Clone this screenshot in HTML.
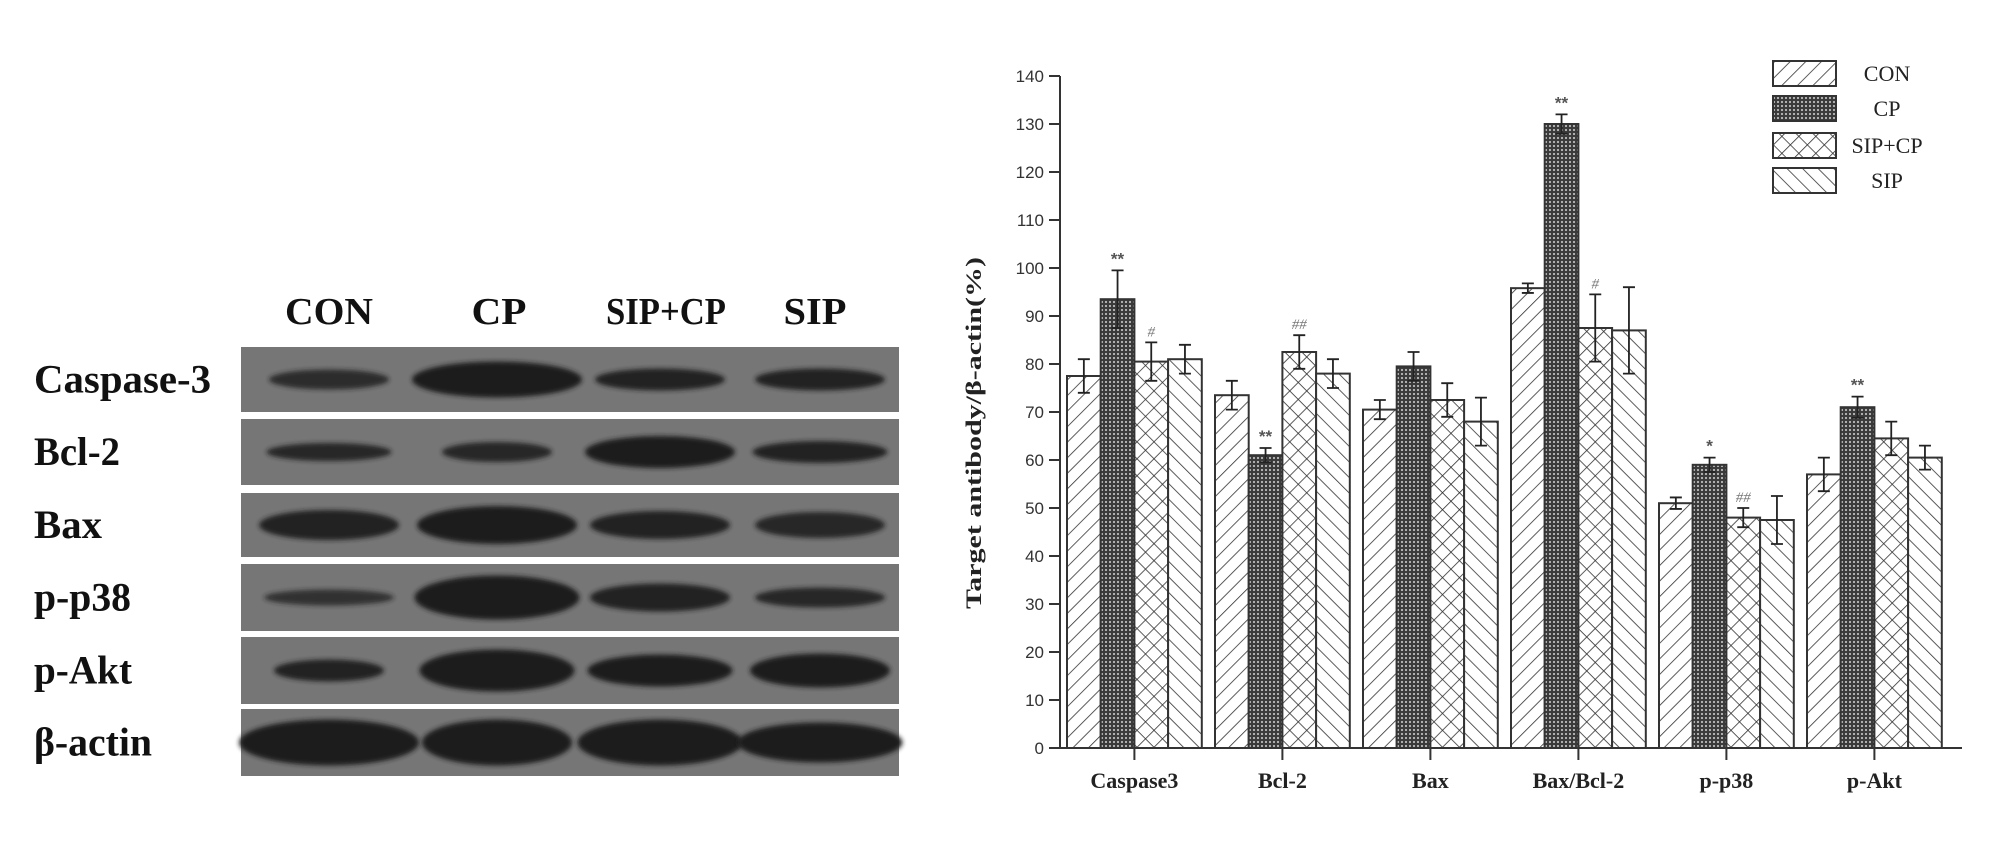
<!DOCTYPE html>
<html><head><meta charset="utf-8">
<style>
html,body{margin:0;padding:0;background:#fff;}
svg{display:block;}
</style></head>
<body>
<svg id="fig" width="2008" height="852" viewBox="0 0 2008 852" xmlns="http://www.w3.org/2000/svg">
<defs>
  <pattern id="pCon" width="11" height="11" patternUnits="userSpaceOnUse" patternTransform="rotate(45)">
    <rect width="11" height="11" fill="#fff"/><line x1="0" y1="0" x2="0" y2="11" stroke="#333" stroke-width="1.6"/>
  </pattern>
  <pattern id="pSip" width="11" height="11" patternUnits="userSpaceOnUse" patternTransform="rotate(-45)">
    <rect width="11" height="11" fill="#fff"/><line x1="0" y1="0" x2="0" y2="11" stroke="#333" stroke-width="1.6"/>
  </pattern>
  <pattern id="pCross" width="12" height="12" patternUnits="userSpaceOnUse" patternTransform="rotate(45)">
    <rect width="12" height="12" fill="#fff"/>
    <line x1="0" y1="0" x2="0" y2="12" stroke="#333" stroke-width="1.6"/>
    <line x1="0" y1="0" x2="12" y2="0" stroke="#333" stroke-width="1.6"/>
  </pattern>
  <pattern id="pDot" width="4" height="4" patternUnits="userSpaceOnUse">
    <rect width="4" height="4" fill="#3a3a3a"/><circle cx="2" cy="2" r="1.1" fill="#bbb"/>
  </pattern>
  <filter id="blur" x="-20%" y="-50%" width="140%" height="200%"><feGaussianBlur stdDeviation="2.5"/></filter>
</defs>

<g id="blot" font-family="'Liberation Serif',serif" font-weight="bold"></g>
<g id="chart"></g>
</svg>

<script>
const NS = 'http://www.w3.org/2000/svg';
// ---- Chart data ----
const categories = ['Caspase3','Bcl-2','Bax','Bax/Bcl-2','p-p38','p-Akt'];
const seriesNames = ['CON','CP','SIP+CP','SIP'];
const conVals = [77.5, 73.5, 70.5, 95.8, 51, 57];
const cpVals = [93.5, 61, 79.5, 130, 59, 71];
const sipcpVals = [80.5, 82.5, 72.5, 87.5, 48, 64.5];
const sipVals = [81, 78, 68, 87, 47.5, 60.5];
const conErr = [3.5, 3, 2, 1, 1.2, 3.5];
const cpErr = [6, 1.5, 3, 2, 1.5, 2.2];
const sipcpErr = [4, 3.5, 3.5, 7, 2, 3.5];
const sipErr = [3, 3, 5, 9, 5, 2.5];
const cpMarks = ['**','**','','**','*','**'];
const sipcpMarks = ['#','##','','#','##',''];
const yTicks = [0,10,20,30,40,50,60,70,80,90,100,110,120,130,140];

const blotRows = ['Caspase-3','Bcl-2','Bax','p-p38','p-Akt','β-actin'];
const blotLanes = ['CON','CP','SIP+CP','SIP'];

function el(tag, attrs, parent){const e=document.createElementNS(NS,tag);for(const k in attrs)e.setAttribute(k,attrs[k]);parent.appendChild(e);return e;}

const X0=1060, Y0=748, PX=4.8, G0=1067, GSTEP=148, BW=33.7;
const yS = v => Y0 - v*PX;
const xBar = (g,s) => G0 + g*GSTEP + s*BW;

const chart=document.getElementById('chart');
const series=[conVals,cpVals,sipcpVals,sipVals];
const errs=[conErr,cpErr,sipcpErr,sipErr];
const fills=['url(#pCon)','url(#pDot)','url(#pCross)','url(#pSip)'];

series.forEach((vals,s)=>{
  vals.forEach((v,g)=>{
    const r=el('rect',{x:xBar(g,s),y:yS(v),width:BW,height:Y0-yS(v),fill:fills[s],stroke:'#333','stroke-width':2},chart);
    
    
    const cx=xBar(g,s)+BW/2, e=errs[s][g];
    const eb=el('path',{d:`M${cx} ${yS(v+e)}V${yS(v-e)}M${cx-6} ${yS(v+e)}H${cx+6}M${cx-6} ${yS(v-e)}H${cx+6}`,stroke:'#222','stroke-width':1.8,fill:'none'},chart);
    
    
  });
});
categories.forEach((c,g)=>{
  if(cpMarks[g]){
    const t=el('text',{x:xBar(g,1)+BW/2,y:yS(cpVals[g]+cpErr[g])-6,'text-anchor':'middle','font-family':"'Liberation Sans',sans-serif",'font-size':17,'font-weight':'bold',fill:'#555'},chart);
    t.textContent=cpMarks[g];
    
    
  }
  if(sipcpMarks[g]){
    const t=el('text',{x:xBar(g,2)+BW/2,y:yS(sipcpVals[g]+sipcpErr[g])-6,'text-anchor':'middle','font-family':"'Liberation Serif',serif",'font-size':15,'font-style':'italic',fill:'#777'},chart);
    t.textContent=sipcpMarks[g];
    
    
  }
});
const ya=el('line',{x1:X0,y1:yS(140),x2:X0,y2:Y0,stroke:'#333','stroke-width':2},chart);


yTicks.forEach(v=>{
  el('line',{x1:X0-11,y1:yS(v),x2:X0,y2:yS(v),stroke:'#333','stroke-width':2},chart);
  const t=el('text',{x:X0-16,y:yS(v)+6,'text-anchor':'end','font-family':"'Liberation Sans',sans-serif",'font-size':17,fill:'#333'},chart);
  t.textContent=v;
  
  
});
const xa=el('line',{x1:X0-11,y1:Y0,x2:1962,y2:Y0,stroke:'#333','stroke-width':2},chart);


categories.forEach((c,g)=>{
  const cx=G0+g*GSTEP+2*BW;
  el('line',{x1:cx,y1:Y0,x2:cx,y2:Y0+12,stroke:'#333','stroke-width':2},chart);
  const t=el('text',{x:cx,y:Y0+40,'text-anchor':'middle','font-family':"'Liberation Serif',serif",'font-size':22,'font-weight':'bold',fill:'#222'},chart);
  t.textContent=c;
  
  
});
const yt=el('text',{x:0,y:0,transform:'translate(981,433) rotate(-90)','text-anchor':'middle','font-family':"'Liberation Serif',serif",'font-size':22,'font-weight':'bold',fill:'#222',textLength:352,lengthAdjust:'spacingAndGlyphs'},chart);
yt.textContent='Target antibody/β-actin(%)';


const legY=[73,108,145,180];
seriesNames.forEach((n,i)=>{
  const r=el('rect',{x:1773,y:legY[i]-12,width:63,height:25,fill:fills[i],stroke:'#333','stroke-width':2},chart);
  
  
  const t=el('text',{x:1887,y:legY[i]+8,'text-anchor':'middle','font-family':"'Liberation Serif',serif",'font-size':22,fill:'#222'},chart);
  t.textContent=n;
  
  
});

// ---- blot ----
const blot=document.getElementById('blot');
const rowY=[[347,412],[419,485],[493,557],[564,631],[637,704],[709,776]];
const laneX=[329,497,660,820];
const laneHdrX=[329,499,666,815];
const laneHdrW=[88,55,120,63];
const rowLblW=[177,86,68,97,98,118];
const bands=[
  [[120,20,0.85],[170,36,1],[130,22,0.95],[130,22,0.95]],
  [[125,18,0.9],[110,20,0.9],[150,32,1],[135,22,0.95]],
  [[140,30,0.95],[160,38,1],[140,28,0.95],[130,26,0.9]],
  [[130,16,0.8],[165,44,1],[140,28,0.95],[130,20,0.9]],
  [[110,22,0.95],[155,42,1],[145,32,1],[140,34,1]],
  [[180,46,1],[150,46,1],[165,46,1],[165,40,1]]
];
blotLanes.forEach((l,i)=>{
  const t=el('text',{x:laneHdrX[i],y:324,'text-anchor':'middle','font-size':38,fill:'#111',textLength:laneHdrW[i],lengthAdjust:'spacingAndGlyphs'},blot);
  t.textContent=l;
  
  
});
blotRows.forEach((r,j)=>{
  const [y1,y2]=rowY[j];
  const bg=el('rect',{x:241,y:y1,width:658,height:y2-y1,fill:'#767676'},blot);
  
  
  const cy=(y1+y2)/2;
  laneX.forEach((x,i)=>{
    const b=bands[j][i];
    const e=el('ellipse',{cx:x,cy:cy,rx:b[0]/2,ry:b[1]/2,fill:'#1e1e1e','fill-opacity':b[2],filter:'url(#blur)'},blot);
    
    
  });
  const t=el('text',{x:34,y:cy+13,'font-size':40,fill:'#111',textLength:rowLblW[j],lengthAdjust:'spacingAndGlyphs'},blot);
  t.textContent=r;
  
  
});
</script>
</body></html>
